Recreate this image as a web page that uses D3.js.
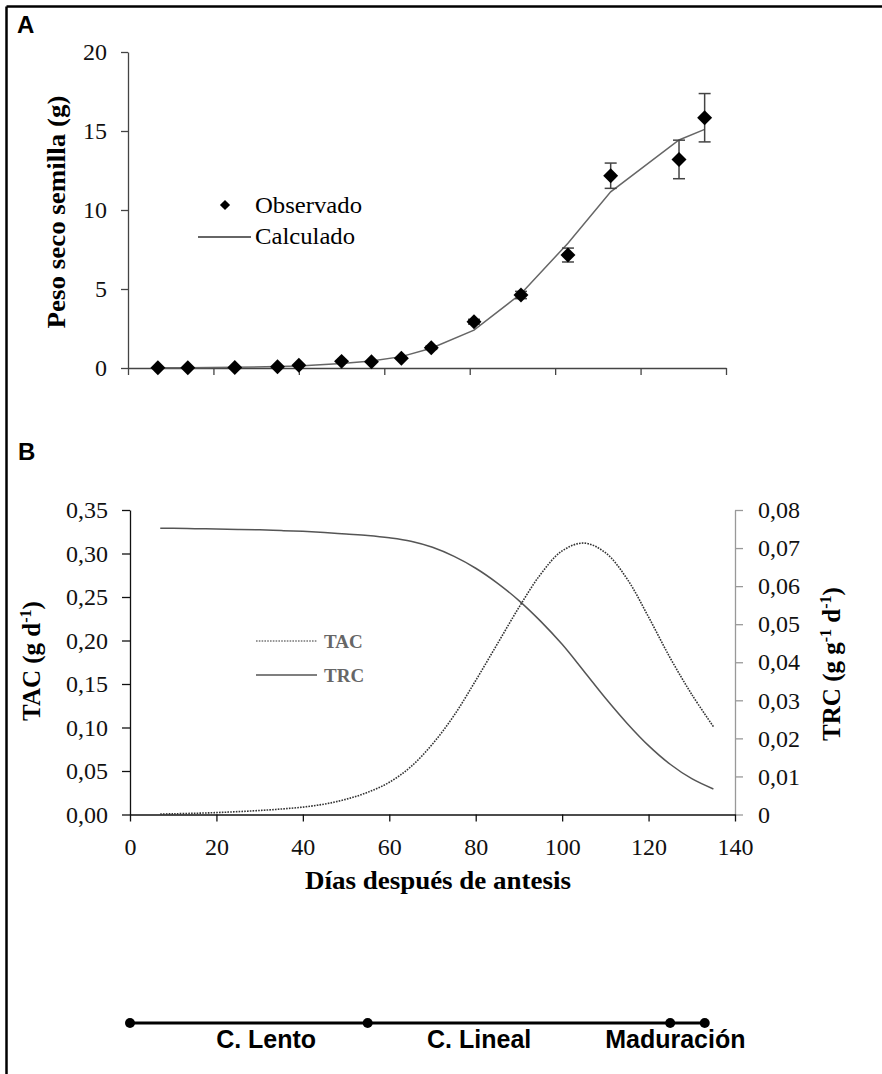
<!DOCTYPE html>
<html>
<head>
<meta charset="utf-8">
<script src="https://cdn.jsdelivr.net/npm/d3@7"></script>
<style>
  html, body { margin: 0; padding: 0; background: #fff; }
  svg { display: block; }
</style>
</head>
<body>
<svg id="chart" width="882" height="1074"></svg>
<script>
// ---------- Data ----------
// Panel A: observed seed dry weight (g) with error, and calculated curve
const obsDays  = [7, 14, 25, 35, 40, 50, 57, 64, 71, 81, 92, 103, 113, 129, 135];
const obsValues = [0.02, 0.02, 0.03, 0.08, 0.17, 0.42, 0.40, 0.62, 1.28, 2.93, 4.62, 7.15, 12.17, 13.2, 15.84];
const obsErrors = [0, 0, 0, 0, 0, 0, 0, 0, 0.1, 0.15, 0.23, 0.44, 0.8, 1.22, 1.53];
const calcValues = [0.01, 0.02, 0.04, 0.09, 0.13, 0.28, 0.45, 0.72, 1.25, 2.4, 4.7, 7.9, 11.15, 14.43, 15.1];
const yTicksA = [0, 5, 10, 15, 20];
const xTicks = [0, 20, 40, 60, 80, 100, 120, 140];

// Panel B: TAC (g d-1) and TRC (g g-1 d-1)
const curveDays = [7, 10, 15, 20, 25, 30, 35, 40, 45, 50, 55, 60, 65, 70, 75, 80, 85, 90, 95, 100, 105, 110, 115, 120, 125, 130, 135];
const tacValues = [0.0005, 0.0008, 0.0014, 0.0022, 0.0033, 0.0046, 0.0063, 0.0085, 0.012, 0.0175, 0.0255, 0.037, 0.055, 0.081, 0.114, 0.154, 0.196, 0.238, 0.276, 0.303, 0.312, 0.301, 0.271, 0.227, 0.180, 0.138, 0.101];
const trcValues = [0.0752, 0.0752, 0.0751, 0.0750, 0.0749, 0.0748, 0.0746, 0.0744, 0.0741, 0.0737, 0.0733, 0.0727, 0.0718, 0.0702, 0.0678, 0.0647, 0.0608, 0.0562, 0.0508, 0.0447, 0.0377, 0.0306, 0.0240, 0.0181, 0.0132, 0.0094, 0.0067];
const yTicksBLeft = [0, 0.05, 0.10, 0.15, 0.20, 0.25, 0.30, 0.35];
const yTicksBRight = [0, 0.01, 0.02, 0.03, 0.04, 0.05, 0.06, 0.07, 0.08];

// Phases timeline
const phaseBounds = [0, 55, 125, 133];
const phaseNames = ["C. Lento", "C. Lineal", "Maduración"];
const phaseLabelDays = [31.5, 80.8, 126.2];

// ---------- Drawing ----------
const svg = d3.select("#chart");
const SERIF = '"Liberation Serif", "Times New Roman", serif';
const SANS = '"Liberation Sans", Arial, sans-serif';

// Frame (top and left border)
svg.append("line").attr("x1", 6.5).attr("x2", 882).attr("y1", 6.5).attr("y2", 6.5)
  .attr("stroke", "#000").attr("stroke-width", 2.5);
svg.append("line").attr("x1", 6.5).attr("x2", 6.5).attr("y1", 6.5).attr("y2", 1074)
  .attr("stroke", "#000").attr("stroke-width", 2.5);

// Panel labels
svg.append("text").attr("x", 17).attr("y", 33).text("A")
  .attr("font-family", SANS).attr("font-weight", "bold").attr("font-size", 24);
svg.append("text").attr("x", 18).attr("y", 460).text("B")
  .attr("font-family", SANS).attr("font-weight", "bold").attr("font-size", 24);

// ===== Panel A =====
const xA = d3.scaleLinear().domain([0, 140]).range([128, 726]);
const yA = d3.scaleLinear().domain([0, 20]).range([368, 52]);
const gA = svg.append("g");

const axA_y = gA.append("g").attr("transform", `translate(${xA(0)},0)`)
  .call(d3.axisLeft(yA).tickValues(yTicksA).tickSize(7).tickPadding(14).tickSizeOuter(0).tickFormat(d3.format("d")));
const axA_x = gA.append("g").attr("transform", `translate(0,${yA(0)})`)
  .call(d3.axisBottom(xA).tickValues(xTicks).tickSize(7).tickSizeOuter(0).tickFormat(""));
[axA_y, axA_x].forEach(a => {
  a.select(".domain").attr("stroke", "#444").attr("stroke-width", 1.3);
  a.selectAll(".tick line").attr("stroke", "#444").attr("stroke-width", 1.3);
  a.selectAll("text").attr("font-family", SERIF).attr("font-size", 24).attr("fill", "#111");
});

// Y title A
gA.append("text")
  .attr("transform", `translate(65,212) rotate(-90)`)
  .attr("text-anchor", "middle")
  .attr("font-family", SERIF).attr("font-weight", "bold").attr("font-size", 25)
  .attr("textLength", 233).attr("lengthAdjust", "spacingAndGlyphs")
  .text("Peso seco semilla (g)");

// Calculated line
const lineA = d3.line().x((d, i) => xA(obsDays[i])).y(d => yA(d));
gA.append("path").datum(calcValues).attr("d", lineA)
  .attr("fill", "none").attr("stroke", "#666").attr("stroke-width", 1.5);

// Error bars
const eb = gA.append("g").attr("stroke", "#444").attr("stroke-width", 1.5);
obsDays.forEach((d, i) => {
  if (obsErrors[i] <= 0) return;
  const x = xA(d), y1 = yA(obsValues[i] - obsErrors[i]), y2 = yA(obsValues[i] + obsErrors[i]);
  eb.append("line").attr("x1", x).attr("x2", x).attr("y1", y1).attr("y2", y2);
  eb.append("line").attr("x1", x - 6).attr("x2", x + 6).attr("y1", y1).attr("y2", y1);
  eb.append("line").attr("x1", x - 6).attr("x2", x + 6).attr("y1", y2).attr("y2", y2);
});

// Diamond markers
const diamond = d3.symbol().type(d3.symbolSquare).size(112);
gA.append("g").selectAll("path").data(obsValues).join("path")
  .attr("d", diamond)
  .attr("transform", (d, i) => `translate(${xA(obsDays[i])},${yA(d)}) rotate(45)`)
  .attr("fill", "#000");

// Legend A
gA.append("path").attr("d", d3.symbol().type(d3.symbolSquare).size(52))
  .attr("transform", "translate(225,205) rotate(45)").attr("fill", "#000");
gA.append("text").attr("x", 255).attr("y", 213).text("Observado")
  .attr("font-family", SERIF).attr("font-size", 23).attr("textLength", 107).attr("lengthAdjust", "spacingAndGlyphs");
gA.append("line").attr("x1", 198).attr("x2", 251).attr("y1", 237).attr("y2", 237)
  .attr("stroke", "#333").attr("stroke-width", 1.3);
gA.append("text").attr("x", 255).attr("y", 244).text("Calculado")
  .attr("font-family", SERIF).attr("font-size", 23).attr("textLength", 100).attr("lengthAdjust", "spacingAndGlyphs");

// ===== Panel B =====
const xB = d3.scaleLinear().domain([0, 140]).range([130, 735]);
const yBL = d3.scaleLinear().domain([0, 0.35]).range([814.5, 510]);
const yBR = d3.scaleLinear().domain([0, 0.08]).range([814.5, 510]);
const gB = svg.append("g");

const fmtL = v => d3.format(".2f")(v).replace(".", ",");
const fmtR = v => v === 0 ? "0" : d3.format(".2f")(v).replace(".", ",");

const axBL = gB.append("g").attr("transform", `translate(${xB(0)},0)`)
  .call(d3.axisLeft(yBL).tickValues(yTicksBLeft).tickSize(8).tickPadding(14).tickSizeOuter(0).tickFormat(fmtL));
const axBR = gB.append("g").attr("transform", `translate(${xB(140)},0)`)
  .call(d3.axisRight(yBR).tickValues(yTicksBRight).tickSize(8).tickPadding(15).tickSizeOuter(0).tickFormat(fmtR));
const axBX = gB.append("g").attr("transform", `translate(0,${yBL(0)})`)
  .call(d3.axisBottom(xB).tickValues(xTicks).tickSize(7).tickPadding(16).tickSizeOuter(0).tickFormat(d3.format("d")));
[axBL, axBX].forEach(a => {
  a.select(".domain").attr("stroke", "#111").attr("stroke-width", 1.3);
  a.selectAll(".tick line").attr("stroke", "#111").attr("stroke-width", 1.3);
});
axBR.select(".domain").attr("stroke", "#999").attr("stroke-width", 1.3);
axBR.selectAll(".tick line").attr("stroke", "#999").attr("stroke-width", 1.3);
[axBL, axBR, axBX].forEach(a => {
  a.selectAll("text").attr("font-family", SERIF).attr("font-size", 24).attr("fill", "#111");
});

// Curves
const curveL = d3.line().x((d, i) => xB(curveDays[i])).y(d => yBL(d)).curve(d3.curveCatmullRom.alpha(0.5));
const curveR = d3.line().x((d, i) => xB(curveDays[i])).y(d => yBR(d)).curve(d3.curveCatmullRom.alpha(0.5));
gB.append("path").datum(trcValues).attr("d", curveR)
  .attr("fill", "none").attr("stroke", "#555").attr("stroke-width", 1.5);
gB.append("path").datum(tacValues).attr("d", curveL)
  .attr("fill", "none").attr("stroke", "#333").attr("stroke-width", 1.6).attr("stroke-dasharray", "1.6,1.2");

// Legend B
gB.append("line").attr("x1", 256).attr("x2", 317).attr("y1", 641).attr("y2", 641)
  .attr("stroke", "#777").attr("stroke-width", 1.5).attr("stroke-dasharray", "1.6,1.2");
gB.append("text").attr("x", 324).attr("y", 648).text("TAC")
  .attr("font-family", SERIF).attr("font-weight", "bold").attr("font-size", 19).attr("fill", "#666");
gB.append("line").attr("x1", 256).attr("x2", 317).attr("y1", 675).attr("y2", 675)
  .attr("stroke", "#555").attr("stroke-width", 1.5);
gB.append("text").attr("x", 324).attr("y", 682).text("TRC")
  .attr("font-family", SERIF).attr("font-weight", "bold").attr("font-size", 19).attr("fill", "#666");

// Y titles B
const tL = gB.append("text")
  .attr("transform", `translate(40,661) rotate(-90)`)
  .attr("text-anchor", "middle")
  .attr("font-family", SERIF).attr("font-weight", "bold").attr("font-size", 25);
tL.append("tspan").text("TAC (g d");
tL.append("tspan").attr("dy", -9).attr("font-size", 16).text("-1");
tL.append("tspan").attr("dy", 9).text(")");

const tR = gB.append("text")
  .attr("transform", `translate(840,664) rotate(-90)`)
  .attr("text-anchor", "middle")
  .attr("font-family", SERIF).attr("font-weight", "bold").attr("font-size", 25);
tR.append("tspan").text("TRC (g g");
tR.append("tspan").attr("dy", -9).attr("font-size", 16).text("-1");
tR.append("tspan").attr("dy", 9).text(" d");
tR.append("tspan").attr("dy", -9).attr("font-size", 16).text("-1");
tR.append("tspan").attr("dy", 9).text(")");

// X title
gB.append("text").attr("x", 438).attr("y", 889).attr("text-anchor", "middle")
  .attr("font-family", SERIF).attr("font-weight", "bold").attr("font-size", 25)
  .attr("textLength", 266).attr("lengthAdjust", "spacingAndGlyphs")
  .text("Días después de antesis");

// ===== Timeline =====
const yT = 1023;
const gT = svg.append("g");
gT.append("line").attr("x1", xB(phaseBounds[0])).attr("x2", xB(phaseBounds[phaseBounds.length - 1]))
  .attr("y1", yT).attr("y2", yT).attr("stroke", "#000").attr("stroke-width", 3);
gT.selectAll("circle").data(phaseBounds).join("circle")
  .attr("cx", d => xB(d)).attr("cy", yT).attr("r", 5).attr("fill", "#000");
gT.selectAll("text").data(phaseNames).join("text")
  .attr("x", (d, i) => xB(phaseLabelDays[i])).attr("y", 1048).attr("text-anchor", "middle")
  .attr("font-family", SANS).attr("font-weight", "bold").attr("font-size", 25)
  .text(d => d);
</script>
</body>
</html>
